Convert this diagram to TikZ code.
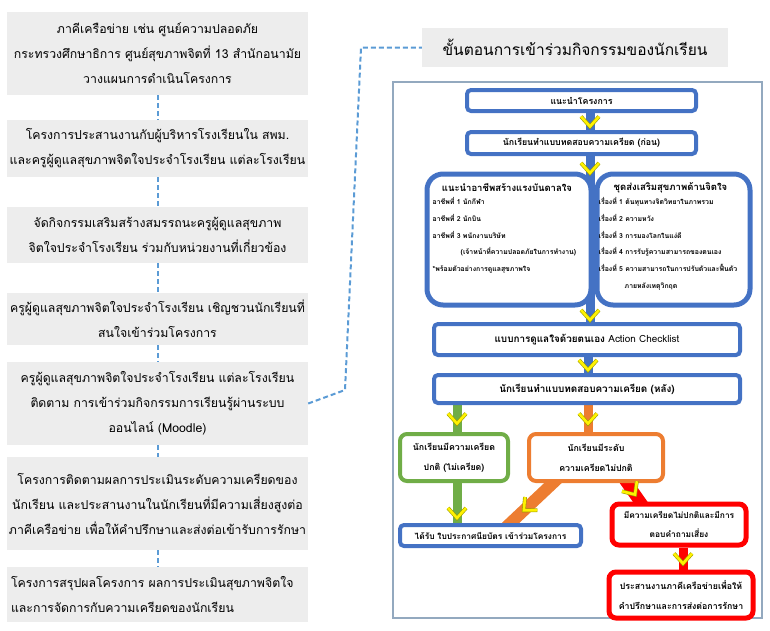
\documentclass[tikz,border=0pt]{standalone}
\usepackage{fontspec}
\setmainfont[Script=Thai]{Loma}
\usetikzlibrary{calc,backgrounds}
\definecolor{boxgray}{HTML}{EDEDED}
\definecolor{dashblue}{HTML}{5B9BD5}
\definecolor{mblue}{HTML}{4472C4}
\definecolor{mgreen}{HTML}{70AD47}
\definecolor{morange}{HTML}{ED7D31}
\definecolor{mred}{HTML}{FF0000}
\definecolor{framegray}{HTML}{93A9BF}
\definecolor{chevedge}{HTML}{9C9C00}
\tikzset{
  leftbox/.style={fill=boxgray, minimum width=301pt, align=center, inner sep=0pt, font=\fontsize{12.3}{25}\selectfont},
  link/.style={dashblue, line width=2pt, dash pattern=on 5pt off 3pt},
  stepbox/.style={draw=#1, line width=4pt, rounded corners=4pt, fill=white, align=center, inner sep=0pt, font=\bfseries\fontsize{8.8}{20}\selectfont},
  bigbox/.style={draw=mblue, line width=5pt, rounded corners=16pt, fill=white, inner sep=0pt},
  itemtext/.style={align=left, inner sep=0pt, font=\bfseries\fontsize{6.9}{16.7}\selectfont},
  shaft/.style={#1, line width=9pt},
  chevline/.style={draw=chevedge, double=yellow, double distance=2.6pt, line width=0.6pt, line join=miter},
  chev/.pic={\draw[chevline] (-9,-5) -- (0,5) -- (9,-5);}
}
\begin{document}
\begin{tikzpicture}[x=1pt, y=-1pt]
	\useasboundingbox (0,0) rectangle (770,630);
	% left column
	\node[leftbox, minimum height=83pt] (l1) at (157.5,53.5) {ภาคีเครือข่าย เช่น ศูนย์ความปลอดภัย\\กระทรวงศึกษาธิการ ศูนย์สุขภาพจิตที่ 13 สำนักอนามัย\\วางแผนการดำเนินโครงการ};
	\node[leftbox, minimum height=57pt] (l2) at (157.5,148.5) {โครงการประสานงานกับผู้บริหารโรงเรียนใน สพม.\\และครูผู้ดูแลสุขภาพจิตใจประจำโรงเรียน แต่ละโรงเรียน};
	\node[leftbox, minimum height=56pt] (l3) at (157.5,235) {จัดกิจกรรมเสริมสร้างสมรรถนะครูผู้ดูแลสุขภาพ\\จิตใจประจำโรงเรียน ร่วมกับหน่วยงานที่เกี่ยวข้อง};
	\node[leftbox, minimum height=52pt] (l4) at (157.5,319) {ครูผู้ดูแลสุขภาพจิตใจประจำโรงเรียน เชิญชวนนักเรียนที่\\สนใจเข้าร่วมโครงการ};
	\node[leftbox, minimum height=83pt] (l5) at (157.5,403.5) {ครูผู้ดูแลสุขภาพจิตใจประจำโรงเรียน แต่ละโรงเรียน\\ติดตาม การเข้าร่วมกิจกรรมการเรียนรู้ผ่านระบบ\\ออนไลน์ (Moodle)};
	\node[leftbox, minimum height=93pt] (l6) at (157.5,503.5) {โครงการติดตามผลการประเมินระดับความเครียดของ\\นักเรียน และประสานงานในนักเรียนที่มีความเสี่ยงสูงต่อ\\ภาคีเครือข่าย เพื่อให้คำปรึกษาและส่งต่อเข้ารับการรักษา};
	\node[leftbox, minimum height=55pt] (l7) at (157.5,594.5) {};
	\node[align=left, inner sep=0pt, anchor=west, font=\fontsize{12.3}{25}\selectfont] at ([xshift=4pt]l7.west) {โครงการสรุปผลโครงการ ผลการประเมินสุขภาพจิตใจ\\และการจัดการกับความเครียดของนักเรียน};
	\foreach \a/\b in {l1/l2, l2/l3, l3/l4, l4/l5, l5/l6, l6/l7}
		\draw[link] (\a) -- (\b);
	% title and frame
	\node[fill=boxgray, minimum width=306pt, minimum height=39pt, font=\fontsize{15.5}{20}\selectfont] (title) at (575,47.5) {ขั้นตอนการเข้าร่วมกิจกรรมของนักเรียน};
	\coordinate (bendlow) at (345,390);
	\coordinate (bendhigh) at (361,47.5);
	\draw[link] (l5.east) -- (bendlow) -- (bendhigh) -- (title.west);
	\draw[framegray, line width=1.2pt] (393,82) rectangle (762,618);
	% steps
	\node[stepbox=mblue, minimum width=229pt, minimum height=21pt] (intro) at (581.5,100.5) {แนะนำโครงการ};
	\node[stepbox=mblue, minimum width=229pt, minimum height=22pt] (pre) at (581.5,143) {นักเรียนทำแบบทดสอบความเครียด (ก่อน)};
	\node[bigbox, minimum width=164pt, minimum height=131pt] (career) at (509,239.5) {};
	\node[bigbox, minimum width=153pt, minimum height=131pt] (mind) at (673.5,239.5) {};
	\node[stepbox=mblue, minimum width=306pt, minimum height=31pt, font=\bfseries\fontsize{9.9}{20}\selectfont] (check) at (587,339.5) {แบบการดูแลใจด้วยตนเอง \normalfont Action Checklist};
	\node[stepbox=mblue, minimum width=306pt, minimum height=28pt, font=\bfseries\fontsize{9.9}{20}\selectfont] (post) at (587,389) {นักเรียนทำแบบทดสอบความเครียด (หลัง)};
	\node[stepbox=mgreen, minimum width=108pt, minimum height=47pt, rounded corners=7pt] (normal) at (454,457.5) {นักเรียนมีความเครียด\\ปกติ (ไม่เครียด)};
	\node[stepbox=morange, minimum width=134pt, minimum height=47pt, rounded corners=7pt] (abnormal) at (596,457.5) {นักเรียนมีระดับ\\ความเครียดไม่ปกติ};
	\node[stepbox=mblue, minimum width=181pt, minimum height=21pt, font=\bfseries\fontsize{8.4}{20}\selectfont] (cert) at (490.5,535.5) {ได้รับ ใบประกาศนียบัตร เข้าร่วมโครงการ};
	\node[stepbox=mred, line width=5pt, minimum width=134pt, minimum height=41pt, rounded corners=7pt, font=\bfseries\fontsize{8.4}{19}\selectfont] (risk) at (679,524.5) {มีความเครียดไม่ปกติและมีการ\\ตอบคำถามเสี่ยง};
	\node[stepbox=mred, line width=5pt, minimum width=144pt, minimum height=46pt, rounded corners=7pt, font=\bfseries\fontsize{8.8}{20}\selectfont] (refer) at (681,595) {ประสานงานภาคีเครือข่ายเพื่อให้\\คำปรึกษาและการส่งต่อการรักษา};
	% box contents
	\node[font=\bfseries\fontsize{9.5}{12}\selectfont, anchor=north] at ([xshift=-2pt,yshift=-8pt]career.north) {แนะนำอาชีพสร้างแรงบันดาลใจ};
	\node[itemtext, anchor=north west] (careerlist) at ([xshift=8pt,yshift=-26pt]career.north west) {อาชีพที่ 1 นักกีฬา\\อาชีพที่ 2 นักบิน\\อาชีพที่ 3 พนักงานบริษัท\\\hspace*{28pt}(เจ้าหน้าที่ความปลอดภัยในการทำงาน)\\*พร้อมตัวอย่างการดูแลสุขภาพใจ};
	\node[font=\bfseries\fontsize{9.5}{12}\selectfont, anchor=north] at ([xshift=-3pt,yshift=-8pt]mind.north) {ชุดส่งเสริมสุขภาพด้านจิตใจ};
	\node[itemtext, anchor=north west] (mindlist) at ([xshift=4pt,yshift=-26pt]mind.north west) {เรื่องที่ 1 ต้นทุนทางจิตวิทยาในภาพรวม\\เรื่องที่ 2 ความหวัง\\เรื่องที่ 3 การมองโลกในแง่ดี\\เรื่องที่ 4 การรับรู้ความสามารถของตนเอง\\เรื่องที่ 5 ความสามารถในการปรับตัวและฟื้นตัว\\\hspace*{26pt}ภายหลังเหตุวิกฤต};
	% shafts
	\begin{scope}[on background layer]
		\draw[shaft=mblue] ([xshift=8.5pt]intro.south) -- ([xshift=8.5pt]pre.north);
		\draw[shaft=mblue] ([xshift=8.5pt]pre.south) -- ([xshift=3pt]check.north);
		\draw[shaft=mblue] ([xshift=1pt]check.south) -- ([xshift=1pt]post.north);
		\draw[shaft=mgreen] ([xshift=3pt]normal.north |- post.south) -- ([xshift=3pt]normal.north);
		\draw[shaft=morange] ([xshift=-8pt]abnormal.north |- post.south) -- ([xshift=-8pt]abnormal.north);
		\draw[shaft=mgreen] ([xshift=3pt]normal.south) -- ([xshift=3pt]normal.south |- cert.north);
		\draw[shaft=morange, line width=12pt, shorten <=-8pt, shorten >=-8pt] ([xshift=-43pt]abnormal.south) -- ([xshift=20pt]cert.north);
		\draw[shaft=mred, line width=12pt, shorten <=-8pt, shorten >=-8pt] ([xshift=31pt]abnormal.south) -- ([xshift=-39pt]risk.north);
		\draw[shaft=mred] ([xshift=4pt]risk.south) -- ([xshift=4pt]risk.south |- refer.north);
	\end{scope}
	% chevrons
	\pic at ($([xshift=8.5pt]intro.south)!.5!([xshift=8.5pt]pre.north)$) {chev};
	\pic at ([xshift=8.5pt,yshift=-12pt]pre.south) {chev};
	\pic at ([xshift=3pt,yshift=7pt]check.north) {chev};
	\pic at ($([xshift=1pt]check.south)!.5!([xshift=1pt]post.north)$) {chev};
	\pic at ($([xshift=3pt]normal.north |- post.south)!.5!([xshift=3pt]normal.north)$) {chev};
	\pic at ($([xshift=-8pt]abnormal.north |- post.south)!.5!([xshift=-8pt]abnormal.north)$) {chev};
	\pic at ($([xshift=3pt]normal.south)!.75!([xshift=3pt]normal.south |- cert.north)$) {chev};
	\pic[rotate=-47] at ($([xshift=-43pt]abnormal.south)!.6!([xshift=20pt]cert.north)$) {chev};
	\pic[rotate=34] at ($([xshift=31pt]abnormal.south)!.4!([xshift=-39pt]risk.north)$) {chev};
	\pic at ($([xshift=4pt]risk.south)!.5!([xshift=4pt]risk.south |- refer.north)$) {chev};
\end{tikzpicture}
\end{document}
